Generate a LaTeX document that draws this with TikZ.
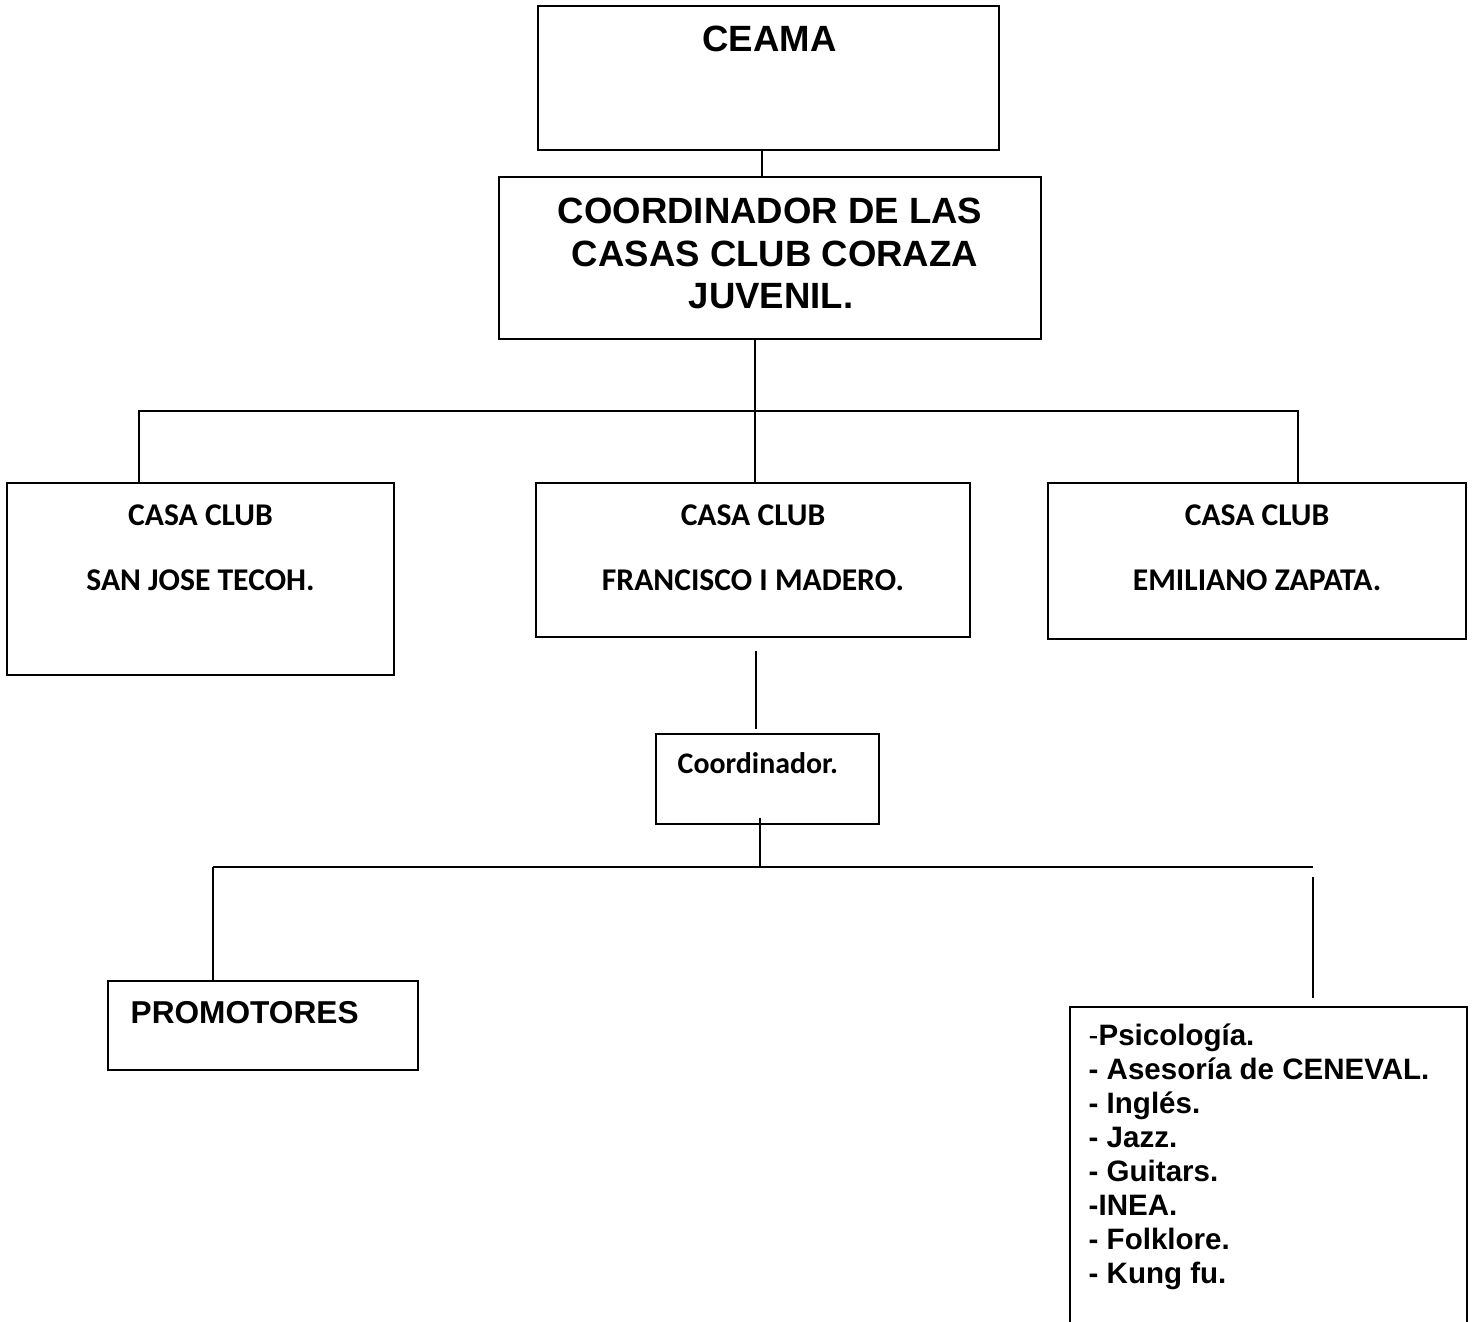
\documentclass[tikz,border=0pt]{standalone}
\usepackage{fontspec}
\setmainfont{Liberation Sans}
\newfontfamily\calibri{Carlito}
\begin{document}
\begin{tikzpicture}[x=0.1mm,y=-0.1mm]
\tikzset{
  box/.style={draw, line width=0.6pt, inner sep=0pt},
  big/.style={font=\bfseries\fontsize{10.4}{12}\selectfont, inner sep=0pt, anchor=base},
  casa/.style={font=\calibri\bfseries\fontsize{9}{11}\selectfont, inner sep=0pt, anchor=base},
  act/.style={font=\bfseries\fontsize{8.4}{10}\selectfont, inner sep=0pt, anchor=base west},
  conn/.style={line width=0.6pt}
}
\useasboundingbox (0,0) rectangle (1472,1321);

% top of the chart
\node[box, minimum width=46.1mm, minimum height=14.4mm] (ceama) at (768.5,78) {};
\node[big] (ceamat) at (769.5,52) {CEAMA};
\node[box, minimum width=54.2mm, minimum height=16.2mm] (coord) at (770,258) {};
\node[big] (coordt1) at (770,223) {COORDINADOR DE LAS};
\node[big] (coordt2) at (775,266) {CASAS CLUB CORAZA};
\node[big] (coordt3) at (771,308) {JUVENIL.};

% casas club
\node[box, minimum width=38.7mm, minimum height=19.2mm] (left) at (200.5,579) {};
\node[casa] (leftt1) at (200.5,525) {CASA CLUB};
\node[casa] (leftt2) at (200.5,590) {SAN JOSE TECOH.};
\node[box, minimum width=43.4mm, minimum height=15.4mm] (mid) at (753,560) {};
\node[casa] (midt1) at (753,525) {CASA CLUB};
\node[casa] (midt2) at (753,590) {FRANCISCO I MADERO.};
\node[box, minimum width=41.8mm, minimum height=15.6mm] (right) at (1257,561) {};
\node[casa] (rightt1) at (1257,525) {CASA CLUB};
\node[casa] (rightt2) at (1257,590) {EMILIANO ZAPATA.};

% coordinador and below
\node[box, minimum width=22.3mm, minimum height=9mm] (coordi) at (767.5,779) {};
\node[casa, font=\calibri\bfseries\fontsize{8.5}{10}\selectfont, anchor=base west] (coordit) at (677,773) {Coordinador.};
\node[box, minimum width=31mm, minimum height=8.9mm] (prom) at (263,1025.5) {};
\node[inner sep=0pt, anchor=base west, font=\bfseries\fontsize{9}{11}\selectfont] (promt) at (130,1023) {PROMOTORES};
\node[box, minimum width=39.7mm, minimum height=33.3mm] (acts) at (1268.5,1173.5) {};
\foreach \txt [count=\i] in {{{\mdseries-}Psicología.}, - Asesoría de CENEVAL., - Inglés., - Jazz., - Guitars., -INEA., - Folklore., - Kung fu.}
  \node[act] (act\i) at (1088,{1011+34*\i}) {\txt};

% connectors
\coordinate (j0) at (762,0);
\draw[conn] (ceama.south -| j0) -- (coord.north -| j0);
\coordinate (j1) at (755,411);
\coordinate (bl) at (139,411);
\coordinate (br) at (1298,411);
\draw[conn] (coord.south -| j1) -- (mid.north -| j1);
\draw[conn] (left.north -| bl) -- (bl) -- (br) -- (right.north -| br);
\coordinate (g1) at (756,651);
\coordinate (g2) at (756,729);
\draw[conn] (g1) -- (g2);
\coordinate (c1) at (760,818);
\coordinate (c2) at (760,867);
\draw[conn] (c1) -- (c2);
\coordinate (pl) at (213,867);
\coordinate (pr) at (1313,867);
\draw[conn] (pl) -- (pr);
\draw[conn] (pl) -- (prom.north -| pl);
\coordinate (r1) at (1313,877);
\coordinate (r2) at (1313,998);
\draw[conn] (r1) -- (r2);
\end{tikzpicture}
\end{document}
